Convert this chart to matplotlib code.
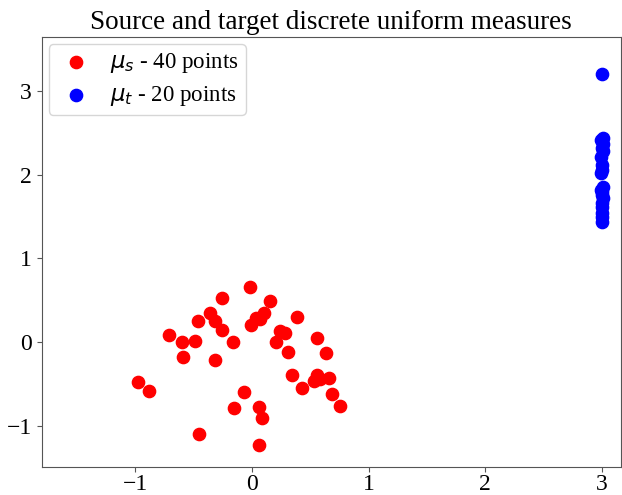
import matplotlib
matplotlib.use("Agg")
import matplotlib.pyplot as plt
import numpy as np

plt.rcParams['font.family'] = ['Liberation Serif', 'DejaVu Serif']
plt.rcParams['mathtext.fontset'] = 'dejavusans'

src_x = [-0.015, -0.255, 0.159, -0.358, -0.464, -0.315, 0.036, 0.107, 0.070, -0.007,
         0.387, -0.253, -0.713, -0.598, -0.484, -0.165, 0.244, 0.284, 0.207, 0.561,
         -0.593, -0.319, 0.307, 0.632, -0.975, -0.878, 0.341, 0.433, 0.559, 0.530,
         0.587, 0.658, 0.690, 0.756, -0.064, -0.150, 0.058, 0.087, -0.452, 0.062]
src_y = [0.654, 0.526, 0.494, 0.343, 0.251, 0.255, 0.291, 0.343, 0.279, 0.203,
         0.299, 0.147, 0.084, -0.004, 0.012, 0.004, 0.135, 0.111, -0.004, 0.051,
         -0.176, -0.219, -0.116, -0.128, -0.478, -0.586, -0.394, -0.546, -0.398, -0.466,
         -0.442, -0.430, -0.618, -0.761, -0.594, -0.785, -0.777, -0.905, -1.100, -1.235]

tgt_x = [3.00, 3.01, 2.99, 3.01, 3.00, 3.01, 2.99, 3.00, 3.00, 2.99,
         3.01, 2.99, 3.00, 3.00, 3.01, 3.00, 3.00, 3.00, 3.00, 3.00]
tgt_y = [3.20, 2.44, 2.41, 2.37, 2.32, 2.29, 2.21, 2.12, 2.06, 2.02,
         1.85, 1.82, 1.79, 1.76, 1.72, 1.66, 1.62, 1.54, 1.49, 1.43]

fig = plt.figure(figsize=(6.22, 4.95), dpi=100)
ax = fig.add_axes([0.067, 0.057, 0.931, 0.868])

ax.scatter(src_x, src_y, s=78, c='red', label=r'$\mu_s$ - 40 points', zorder=3)
ax.scatter(tgt_x, tgt_y, s=78, c='blue', label=r'$\mu_t$ - 20 points', zorder=3)

ax.set_xlim(-1.8, 3.16)
ax.set_ylim(-1.49, 3.645)
ax.set_xticks([-1, 0, 1, 2, 3])
ax.set_yticks([-1, 0, 1, 2, 3])
ax.tick_params(labelsize=17, colors='#555555', labelcolor='black')
ax.tick_params(axis='x', pad=2)
for sp in ax.spines.values():
    sp.set_color('#555555')

ax.set_title('Source and target discrete uniform measures', fontsize=19.5)
ax.legend(loc='upper left', fontsize=16.5, handletextpad=0.6, handlelength=1.8,
          borderpad=0.3, borderaxespad=0.3, labelspacing=0.4)

fig.savefig('out.png', dpi=100)
